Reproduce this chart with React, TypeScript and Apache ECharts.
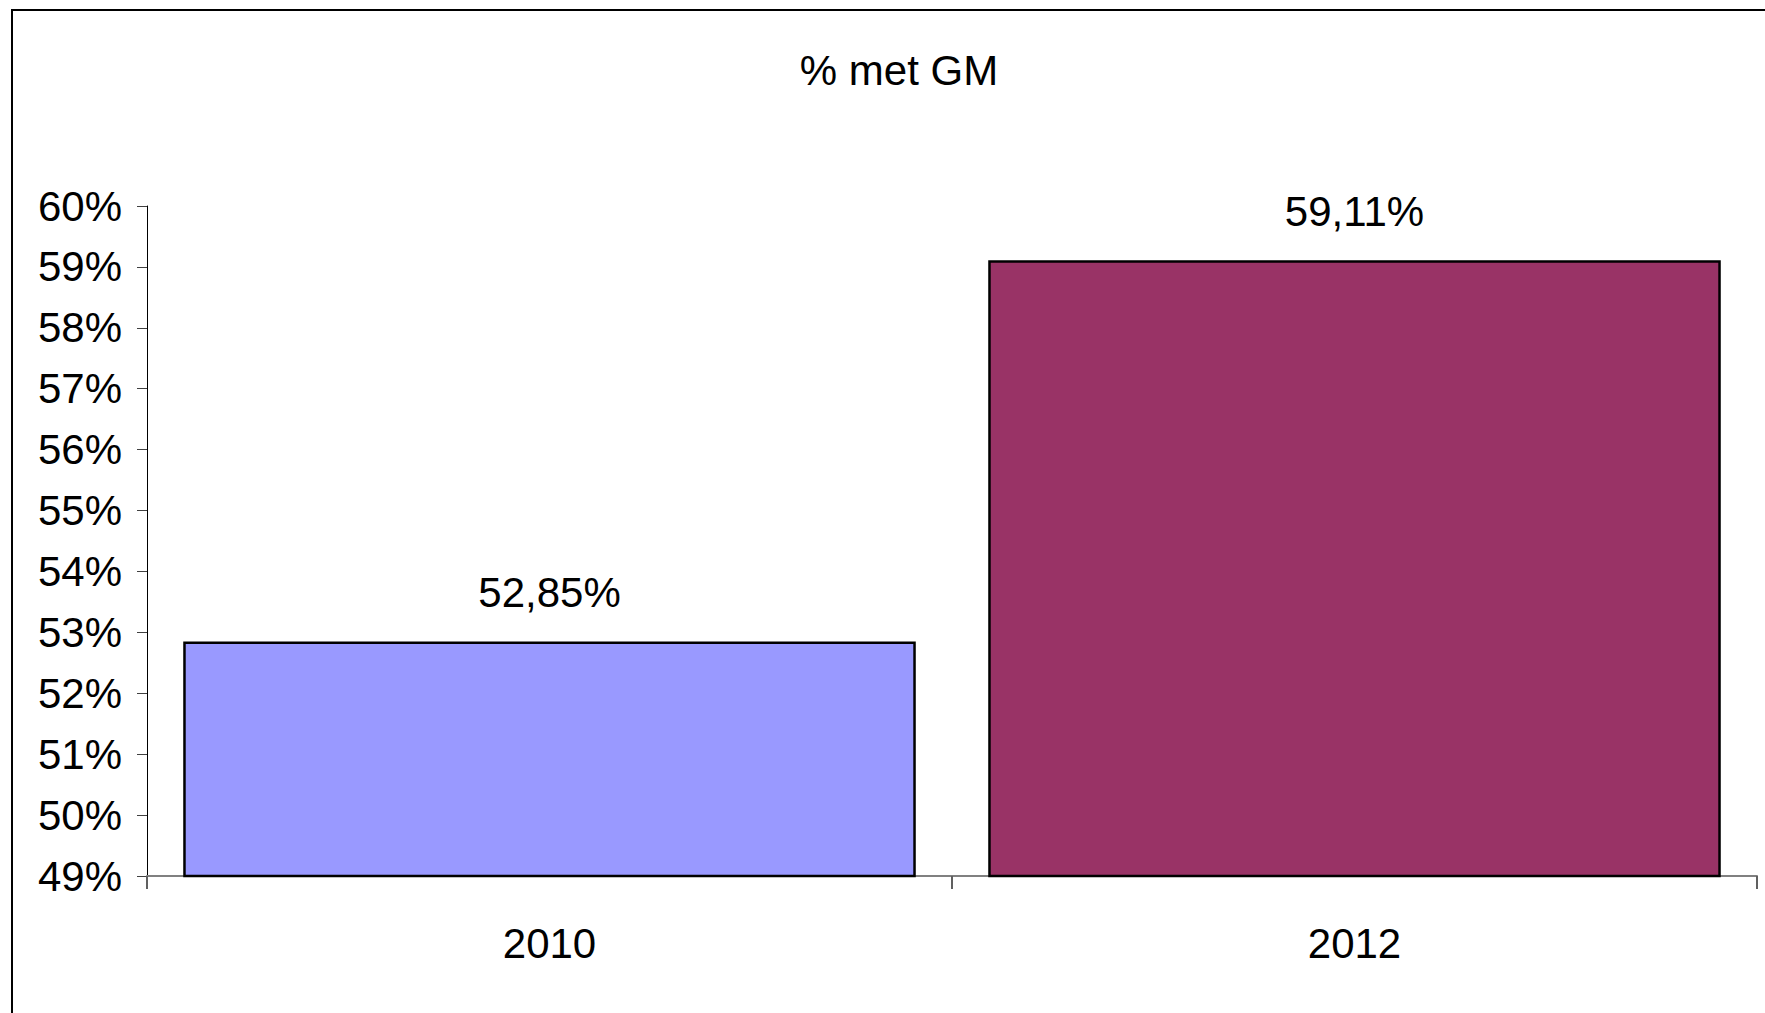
import React, { useEffect, useRef } from "react";
import * as echarts from "echarts";

const categories = ["2010", "2012"];
const values = [52.85, 59.11];
const barColors = ["#9999FF", "#993366"];
const yMin = 49;
const yMax = 60;
const yStep = 1;
const title = "% met GM";

const FONT = "'Liberation Sans Narrow', 'Arial Narrow', 'Liberation Sans', Arial, sans-serif";
const FS = 42;

export default function App() {
  const ref = useRef<HTMLDivElement>(null);
  useEffect(() => {
    document.body.style.margin = "0";
    document.body.style.overflow = "hidden";
    const chart = echarts.init(ref.current!, null, { renderer: "svg" });
    chart.setOption({
      animation: false,
      backgroundColor: "#ffffff",
      textStyle: { fontFamily: FONT },
      graphic: [
        {
          type: "rect",
          shape: { x: 12, y: 10, width: 1800, height: 1100 },
          style: { fill: "none", stroke: "#000", lineWidth: 2 },
          z: 0,
        },
      ],
      title: {
        text: title,
        left: 894,
        top: 44,
        textAlign: "center",
        textStyle: { fontFamily: FONT, fontSize: FS, fontWeight: "normal", color: "#000" },
      },
      grid: { left: 147, right: 8, top: 206, bottom: 137, containLabel: false },
      xAxis: {
        type: "category",
        data: categories,
        axisLine: { lineStyle: { color: "#808080", width: 2 } },
        axisTick: { show: true, length: 13, lineStyle: { color: "#606060", width: 2 } },
        axisLabel: { fontFamily: FONT, fontSize: FS, color: "#000", margin: 46 },
      },
      yAxis: {
        type: "value",
        min: yMin,
        max: yMax,
        interval: yStep,
        splitLine: { show: false },
        axisLine: { show: true, lineStyle: { color: "#000", width: 1 } },
        axisTick: { show: true, length: 10, lineStyle: { color: "#404040", width: 1 } },
        axisLabel: {
          fontFamily: FONT,
          fontSize: FS,
          color: "#000",
          margin: 25,
          formatter: (v: number) => `${v}%`,
        },
      },
      series: [
        {
          type: "bar",
          barWidth: "91%",
          data: values.map((v, i) => ({
            value: v,
            itemStyle: { color: barColors[i], borderColor: "#000", borderWidth: 2.5 },
          })),
          label: {
            show: true,
            position: "top",
            distance: 28,
            fontFamily: FONT,
            fontSize: FS,
            color: "#000",
            formatter: (p: any) => `${p.value.toFixed(2).replace(".", ",")}%`,
          },
        },
      ],
    });
    return () => chart.dispose();
  }, []);
  return <div ref={ref} style={{ width: 1765, height: 1013 }} />;
}
